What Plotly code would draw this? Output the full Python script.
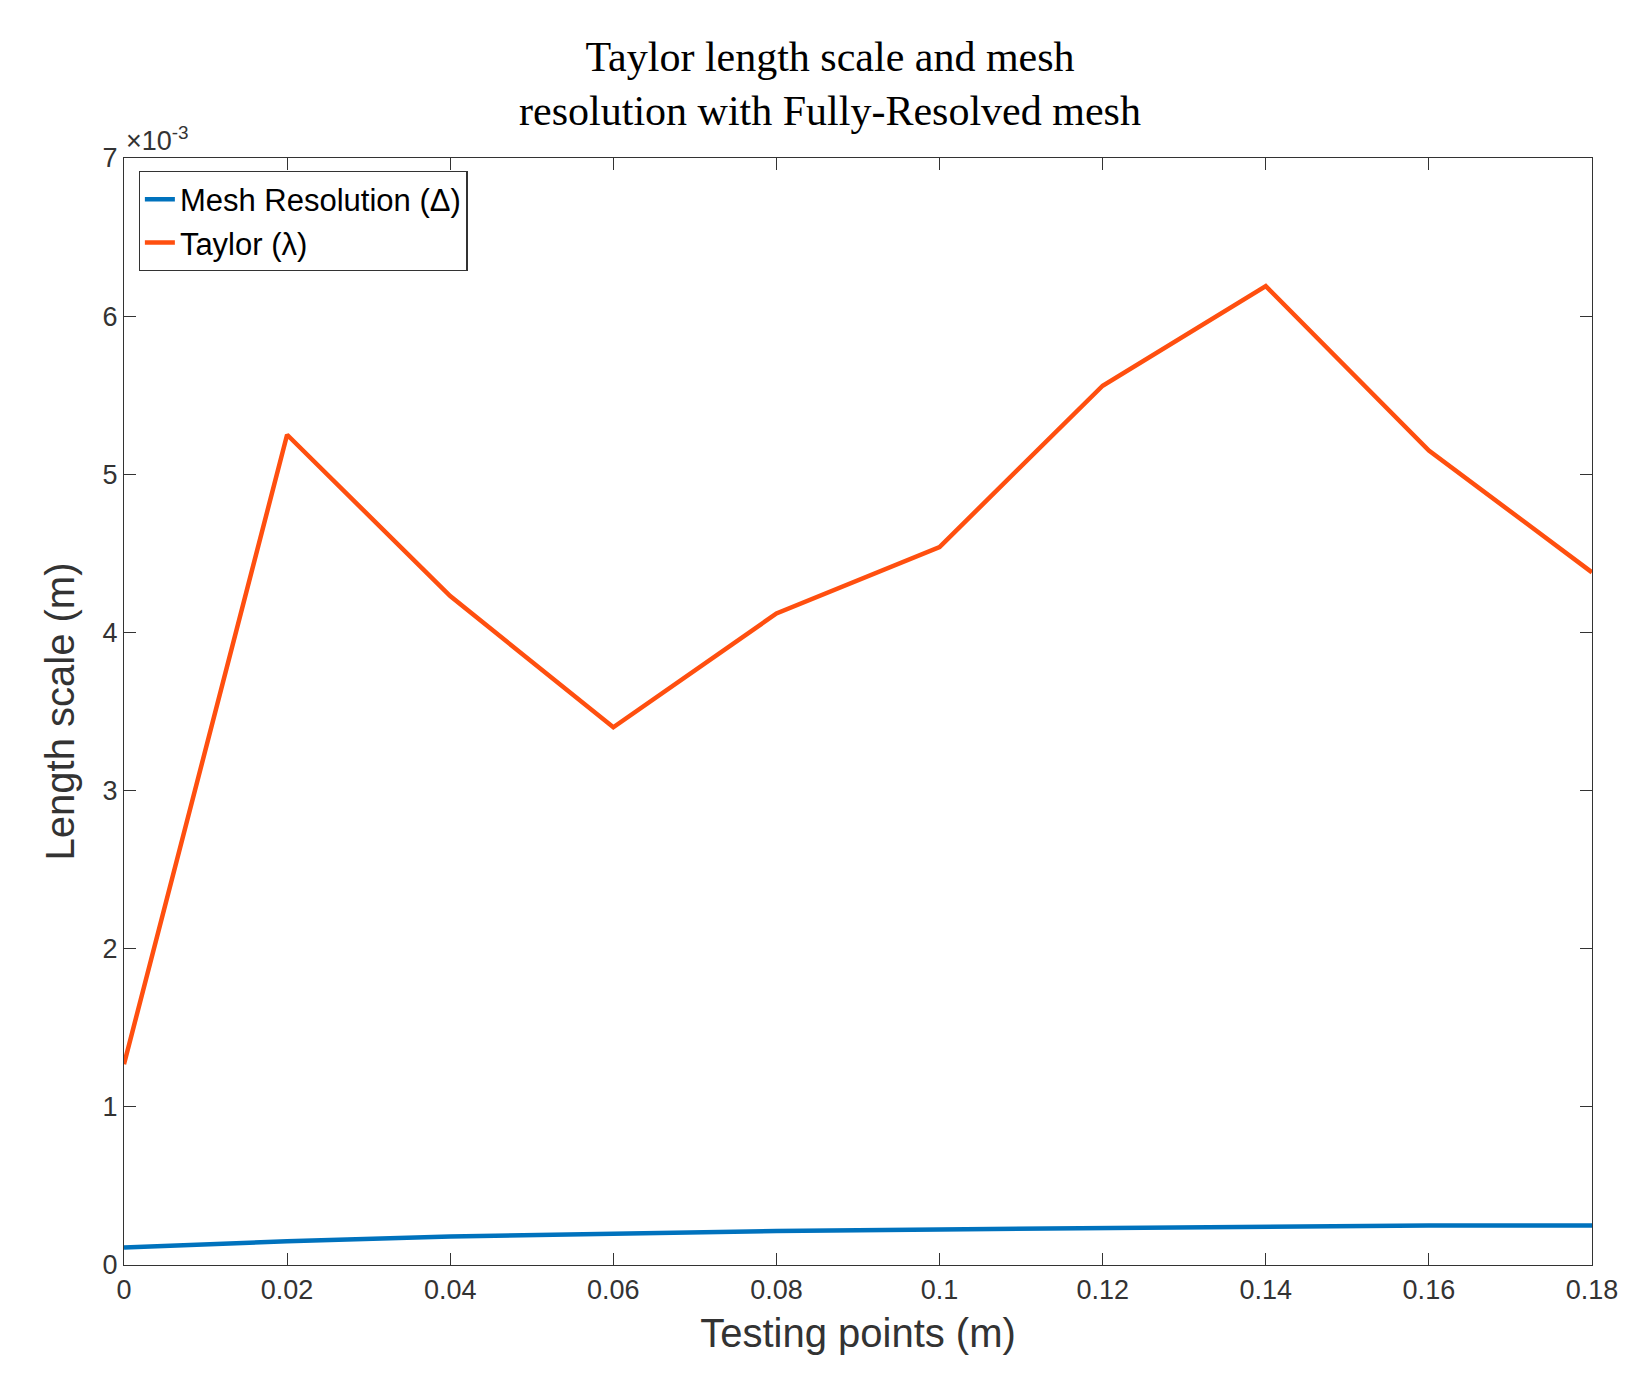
import plotly.graph_objects as go

x_points = [0, 0.02, 0.04, 0.06, 0.08, 0.1, 0.12, 0.14, 0.16, 0.18]
taylor = [1.27, 5.25, 4.23, 3.40, 4.12, 4.54, 5.56, 6.19, 5.15, 4.38]  # x 1e-3 m
mesh = [0.11, 0.15, 0.18, 0.20, 0.215, 0.225, 0.235, 0.24, 0.25, 0.25]  # x 1e-3 m
x_ticks = [0, 0.02, 0.04, 0.06, 0.08, 0.1, 0.12, 0.14, 0.16, 0.18]
x_labels = ["0", "0.02", "0.04", "0.06", "0.08", "0.1", "0.12", "0.14", "0.16", "0.18"]
y_ticks = [0, 1, 2, 3, 4, 5, 6, 7]

fig = go.Figure()
fig.add_trace(go.Scatter(x=x_points, y=mesh, mode="lines", name="Mesh Resolution (Δ)",
                         line=dict(color="#0072BD", width=4.5)))
fig.add_trace(go.Scatter(x=x_points, y=taylor, mode="lines", name="Taylor (λ)",
                         line=dict(color="#FF4F0F", width=4.5)))

ax = dict(showline=True, linecolor="#333", linewidth=1.2, mirror="ticks", ticks="inside",
          ticklen=12, tickcolor="#333", showgrid=False, zeroline=False,
          tickfont=dict(family="Liberation Sans, Arial", size=27, color="#333"))
fig.update_layout(
    width=1644, height=1392, plot_bgcolor="white", paper_bgcolor="white",
    margin=dict(l=116, r=60, t=150, b=135),
    title=dict(text="Taylor length scale and mesh<br>resolution with Fully-Resolved mesh",
               x=0.5, xanchor="center", y=0.955, yanchor="top",
               font=dict(family="Liberation Serif", size=42, color="black")),
    xaxis=dict(range=[0, 0.18], tickvals=x_ticks, ticktext=x_labels,
               title=dict(text="Testing points (m)", font=dict(family="Liberation Sans, Arial", size=40, color="#333")), **ax),
    yaxis=dict(range=[0, 7], tickvals=y_ticks,
               title=dict(text="Length scale (m)", font=dict(family="Liberation Sans, Arial", size=40, color="#333")), **ax),
    legend=dict(x=0.01, y=0.988, xanchor="left", yanchor="top", bgcolor="white",
                bordercolor="#333", borderwidth=1.2,
                font=dict(family="Liberation Sans, Arial", size=31, color="black")),
    showlegend=True,
)
fig.add_annotation(xref="paper", yref="paper", x=0, y=1.0, xanchor="left", yanchor="bottom",
                   text="×10<sup>-3</sup>", showarrow=False,
                   font=dict(family="Liberation Sans, Arial", size=27, color="#333"))
fig.write_html("out.html")
